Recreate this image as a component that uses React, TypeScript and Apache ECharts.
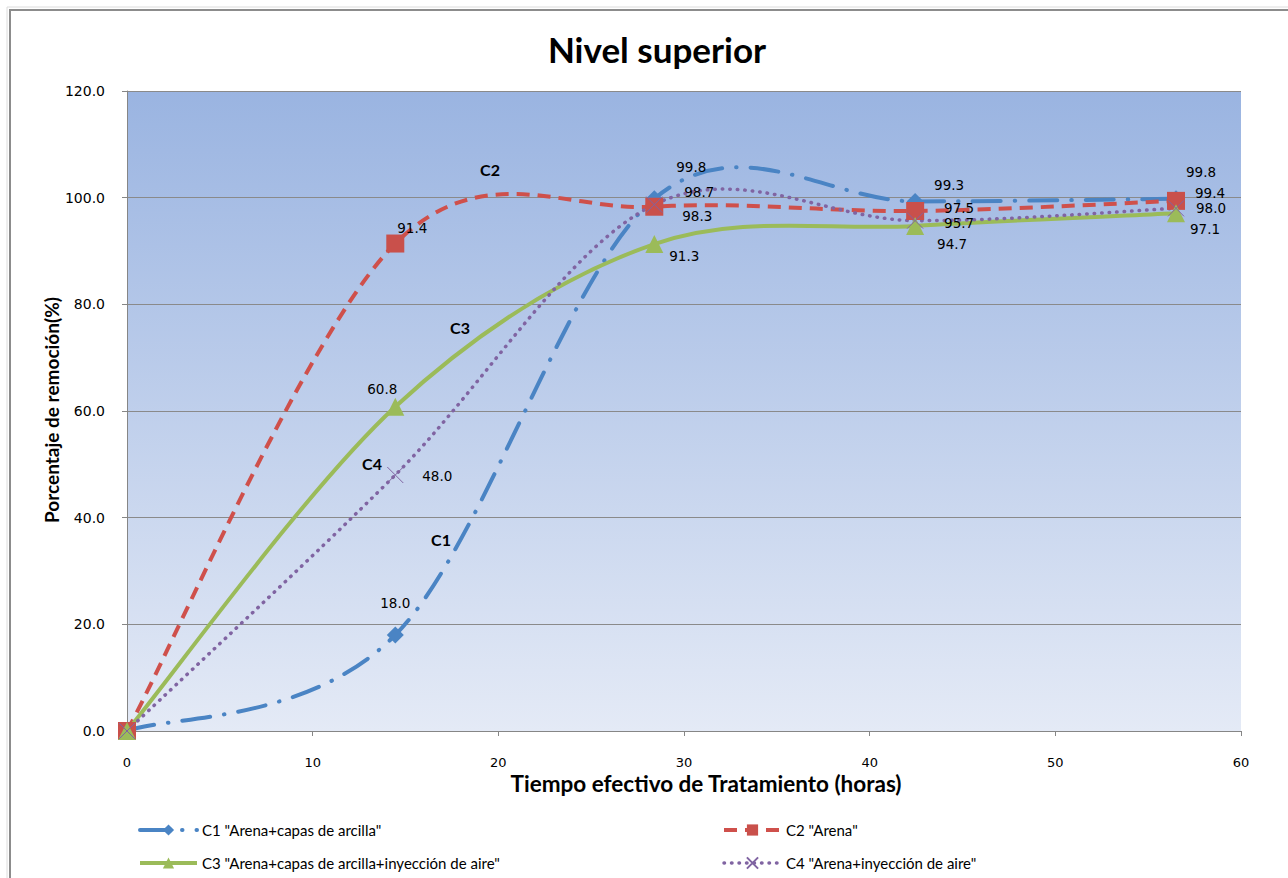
import React, { useEffect, useRef } from "react";
import * as echarts from "echarts";

const hours = [0, 14.45, 28.4, 42.45, 56.5];
const c1Values = [0, 18.0, 99.8, 99.3, 99.8];
const c2Values = [0, 91.4, 98.3, 97.5, 99.4];
const c3Values = [0, 60.8, 91.3, 94.7, 97.1];
const c4Values = [0, 48.0, 98.7, 95.7, 98.0];
const seriesNames = [
  'C1 "Arena+capas de arcilla"',
  'C2 "Arena"',
  'C3 "Arena+capas de arcilla+inyección de aire"',
  'C4 "Arena+inyección de aire"',
];
const yTicks = [0, 20, 40, 60, 80, 100, 120];

// label offsets (pixels, relative to the marker centre)
const c1LabelOffsets = [null, [0, -32], [37, -32], [34, -16], [25, -27]];
const c2LabelOffsets = [null, [17, -16], [43, 9], [44, -3], [34, -8]];
const c3LabelOffsets = [null, [-13, -18], [30, 12], [37, 18], [29, 16]];
const c4LabelOffsets = [null, [42, 1], [45, -13], [44, 2], [35, 0]];

const NUM_FONT = "DejaVu Sans";
const TXT_FONT = "Lato";

const styles = [
  { color: "#4a84c4", width: 4, type: [28, 14, 0.5, 14], cap: "round" },
  { color: "#cf504b", width: 4, type: [13, 8], cap: "butt" },
  { color: "#9bbb59", width: 4, type: "solid", cap: "butt" },
  { color: "#8064a2", width: 3.5, type: [0.5, 7], cap: "round" },
];
const allValues = [c1Values, c2Values, c3Values, c4Values];
const allOffsets = [c1LabelOffsets, c2LabelOffsets, c3LabelOffsets, c4LabelOffsets];
const symbols = ["diamond", "rect", "triangle", "path://M0,0L10,10M10,0L0,10"];
const symbolSizes = [17, 18, 18, 16];

function buildData(values: number[], offsets: (number[] | null)[]) {
  return values.map((v, i) => ({
    value: [hours[i], v],
    label: offsets[i]
      ? { show: true, position: "inside", offset: offsets[i] }
      : { show: false },
  }));
}

// Excel-like smoothed curve (Catmull-Rom as cubic Bezier) through pixel points
function smoothPath(pts: number[][]): string {
  let d = `M${pts[0][0]},${pts[0][1]}`;
  for (let i = 0; i < pts.length - 1; i++) {
    const p0 = pts[i - 1] || pts[i];
    const p1 = pts[i];
    const p2 = pts[i + 1];
    const p3 = pts[i + 2] || pts[i + 1];
    const c1x = p1[0] + (p2[0] - p0[0]) / 6;
    const c1y = p1[1] + (p2[1] - p0[1]) / 6;
    const c2x = p2[0] - (p3[0] - p1[0]) / 6;
    const c2y = p2[1] - (p3[1] - p1[1]) / 6;
    d += ` C${c1x},${c1y} ${c2x},${c2y} ${p2[0]},${p2[1]}`;
  }
  return d;
}

const labelStyle = {
  color: "#000",
  fontFamily: NUM_FONT,
  fontSize: 13.5,
  formatter: (p: any) => Number(p.value[1]).toFixed(1),
};

export default function App() {
  const ref = useRef<HTMLDivElement>(null);
  useEffect(() => {
    if (!ref.current) return;
    const chart = echarts.init(ref.current, undefined, { renderer: "svg" });

    const curveSeries = allValues.map((vals, k) => ({
      name: "curve" + k,
      type: "custom",
      coordinateSystem: "cartesian2d",
      silent: true,
      z: 2 + k,
      data: vals.map((v, i) => [hours[i], v]),
      encode: { x: 0, y: 1 },
      renderItem: (params: any, api: any) => {
        if (params.dataIndex !== 0) return null;
        const pts = vals.map((v, i) => api.coord([hours[i], v]));
        const s = styles[k];
        return {
          type: "path",
          shape: { pathData: smoothPath(pts) },
          style: {
            fill: "none",
            stroke: s.color,
            lineWidth: s.width,
            lineDash: Array.isArray(s.type) ? s.type : null,
            lineCap: s.cap,
          },
        };
      },
    }));

    const markerSeries = allValues.map((vals, k) => ({
      name: seriesNames[k],
      type: "line",
      data: buildData(vals, allOffsets[k]),
      symbol: symbols[k],
      symbolSize: symbolSizes[k],
      showAllSymbol: true,
      lineStyle: { ...styles[k], opacity: 0 },
      itemStyle:
        k === 3
          ? { color: styles[k].color, borderColor: styles[k].color, borderWidth: 1 }
          : { color: k === 1 ? "#c9504b" : styles[k].color },
      label: labelStyle,
      z: 10 + k,
    }));

    const legendItem = (k: number) => ({
      name: seriesNames[k],
      lineStyle: { ...styles[k], opacity: 1 },
    });

    const legendCommon = {
      orient: "vertical",
      top: 821,
      padding: 0,
      itemWidth: 57,
      itemHeight: 14,
      itemGap: 15,
      textStyle: { fontFamily: TXT_FONT, fontSize: 15, color: "#000", lineHeight: 18 },
    };

    const option: any = {
      animation: false,
      backgroundColor: "#fff",
      title: {
        text: "Nivel superior",
        left: 652,
        textAlign: "center",
        top: 26,
        textStyle: { fontFamily: TXT_FONT, fontWeight: "bold", fontSize: 35, color: "#000" },
      },
      grid: {
        left: 127,
        top: 91,
        width: 1114,
        height: 640,
        show: true,
        borderWidth: 0,
        backgroundColor: new echarts.graphic.LinearGradient(0, 0, 0, 1, [
          { offset: 0, color: "#9ab4e1" },
          { offset: 1, color: "#e4eaf6" },
        ]),
      },
      xAxis: {
        type: "value",
        min: 0,
        max: 60,
        interval: 10,
        axisLine: { show: true, lineStyle: { color: "#868686", width: 1 } },
        axisTick: { show: true, length: 5, inside: false, lineStyle: { color: "#868686" } },
        splitLine: { show: false },
        axisLabel: { margin: 25, color: "#000", fontFamily: NUM_FONT, fontSize: 13 },
      },
      yAxis: {
        type: "value",
        min: yTicks[0],
        max: yTicks[yTicks.length - 1],
        interval: 20,
        axisLine: { show: true, lineStyle: { color: "#868686", width: 1 } },
        axisTick: { show: true, length: 5, lineStyle: { color: "#868686" } },
        splitLine: { show: true, lineStyle: { color: "#8a8a8a", width: 1 } },
        axisLabel: {
          margin: 22,
          color: "#000",
          fontFamily: NUM_FONT,
          fontSize: 14,
          formatter: (v: number) => v.toFixed(1),
        },
      },
      legend: [
        { ...legendCommon, left: 138, data: [legendItem(0), legendItem(2)] },
        { ...legendCommon, left: 722, data: [legendItem(1), legendItem(3)] },
      ],
      graphic: [
        {
          type: "rect",
          silent: true,
          shape: { x: 10, y: 10, width: 1300, height: 900 },
          style: { fill: "none", stroke: "#8c8c8c", lineWidth: 2 },
        },
        {
          type: "rect",
          silent: true,
          shape: { x: 7, y: 7, width: 1300, height: 900 },
          style: { fill: "none", stroke: "#dcdcdc", lineWidth: 1 },
        },
        {
          type: "text",
          x: 706,
          y: 783,
          style: {
            text: "Tiempo efectivo de Tratamiento (horas)",
            fontFamily: TXT_FONT,
            fontWeight: "bold",
            fontSize: 22.5,
            fill: "#000",
            align: "center",
            verticalAlign: "middle",
          },
        },
        {
          type: "text",
          x: 51,
          y: 410,
          rotation: Math.PI / 2,
          style: {
            text: "Porcentaje de remoción(%)",
            fontFamily: TXT_FONT,
            fontWeight: "bold",
            fontSize: 19,
            fill: "#000",
            align: "center",
            verticalAlign: "middle",
          },
        },
        ...[
          ["C2", 490, 169],
          ["C3", 460, 327],
          ["C4", 372, 463],
          ["C1", 441, 539],
        ].map(([t, x, y]) => ({
          type: "text",
          x,
          y,
          z: 100,
          style: {
            text: t,
            fontFamily: TXT_FONT,
            fontWeight: "bold",
            fontSize: 16,
            fill: "#000",
            align: "center",
            verticalAlign: "middle",
          },
        })),
      ],
      series: [...curveSeries, ...markerSeries],
    };
    chart.setOption(option);
    return () => chart.dispose();
  }, []);
  return (
    <div
      ref={ref}
      style={{ position: "fixed", left: 0, top: 0, width: 1288, height: 878 }}
    />
  );
}
